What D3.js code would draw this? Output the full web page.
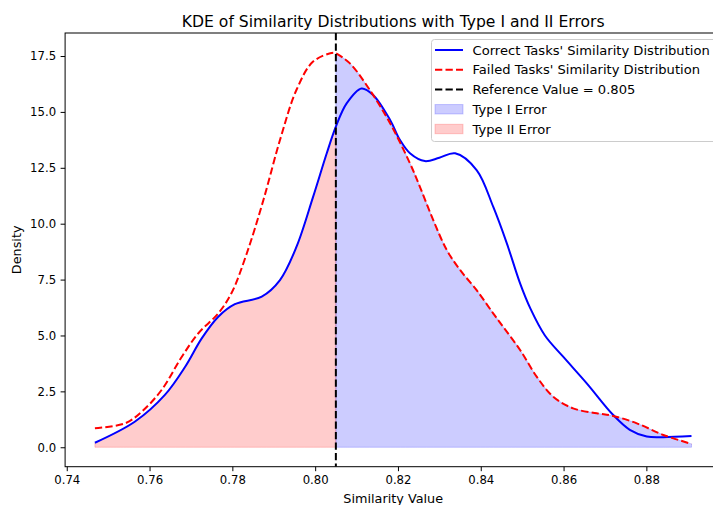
<!DOCTYPE html>
<html>
<head>
<meta charset="utf-8">
<script src="https://cdn.jsdelivr.net/npm/d3@7"></script>
<style>
  html, body { margin: 0; padding: 0; background: #fff; }
  svg { display: block; font-family: "DejaVu Sans", sans-serif; }
</style>
</head>
<body>
<svg id="chart" width="713" height="505"></svg>
<script>
// ---- data ----
const correctX = [0.7468, 0.7565, 0.7637, 0.7686, 0.7726, 0.7766, 0.7806, 0.7871, 0.7915, 0.7955, 0.7995, 0.8028, 0.8050, 0.8076, 0.8112, 0.8140, 0.8181, 0.8205, 0.8229, 0.8265, 0.8300, 0.8338, 0.8390, 0.8430, 0.8463, 0.8495, 0.8520, 0.8555, 0.8599, 0.8656, 0.8720, 0.8760, 0.8801, 0.8841, 0.8909];
const correctY = [0.20, 1.15, 2.34, 3.60, 4.87, 5.84, 6.40, 6.74, 7.48, 8.97, 11.2, 13.15, 14.34, 15.38, 16.05, 15.76, 14.64, 13.74, 13.15, 12.80, 12.95, 13.15, 12.40, 10.76, 9.12, 7.33, 6.20, 5.00, 4.05, 2.86, 1.44, 0.78, 0.48, 0.45, 0.50];
const failedX = [0.7468, 0.7541, 0.7581, 0.7629, 0.7678, 0.7718, 0.7766, 0.7798, 0.7835, 0.7875, 0.7915, 0.7955, 0.7995, 0.8044, 0.8050, 0.8084, 0.8132, 0.8181, 0.8229, 0.8253, 0.8285, 0.8318, 0.8350, 0.8390, 0.8430, 0.8454, 0.8495, 0.8535, 0.8575, 0.8623, 0.8680, 0.8720, 0.8777, 0.8841, 0.8909];
const failedY = [0.85, 1.07, 1.59, 2.56, 4.05, 5.10, 5.99, 6.90, 8.68, 11.06, 13.74, 15.99, 17.25, 17.65, 17.62, 17.17, 15.98, 14.49, 12.70, 11.65, 10.17, 8.82, 7.93, 7.03, 5.99, 5.39, 4.35, 3.16, 2.26, 1.74, 1.52, 1.40, 1.07, 0.55, 0.15];
const referenceValue = 0.805;
const xTicks = [0.74, 0.76, 0.78, 0.80, 0.82, 0.84, 0.86, 0.88];
const yTicks = [0.0, 2.5, 5.0, 7.5, 10.0, 12.5, 15.0, 17.5];
const legendLabels = ["Correct Tasks' Similarity Distribution", "Failed Tasks' Similarity Distribution", "Reference Value = 0.805", "Type I Error", "Type II Error"];

// ---- layout ----
const svg = d3.select("#chart");
const pLeft = 65.1, pRight = 721.3, pTop = 33, pBottom = 466.7;
const x = d3.scaleLinear().domain([0.7396, 0.8981]).range([pLeft, pRight]);
const y = d3.scaleLinear().domain([-0.87, 18.53]).range([pBottom, pTop]);

const correct = correctX.map((v, i) => [v, correctY[i]]);
const failed = failedX.map((v, i) => [v, failedY[i]]);

const curve = d3.curveCatmullRom.alpha(0.5);
const line = d3.line().x(d => x(d[0])).y(d => y(d[1])).curve(curve);
const area = d3.area().x(d => x(d[0])).y0(y(0)).y1(d => y(d[1])).curve(curve);

const defs = svg.append("defs");
defs.append("clipPath").attr("id", "plotclip").append("rect")
  .attr("x", pLeft).attr("y", pTop).attr("width", pRight - pLeft).attr("height", pBottom - pTop);

const g = svg.append("g").attr("clip-path", "url(#plotclip)");

// fills
g.append("path").datum(correct.filter(d => d[0] <= referenceValue + 1e-9))
  .attr("d", area).attr("fill", "rgba(255,0,0,0.2)").attr("stroke", "rgba(255,0,0,0.2)").attr("stroke-width", 1);
g.append("path").datum(failed.filter(d => d[0] >= referenceValue - 1e-9))
  .attr("d", area).attr("fill", "rgba(0,0,255,0.2)").attr("stroke", "rgba(0,0,255,0.2)").attr("stroke-width", 1);

// lines
const dash = "7.3,3.2";
g.append("path").datum(correct).attr("d", line)
  .attr("fill", "none").attr("stroke", "#0000ff").attr("stroke-width", 2);
g.append("path").datum(failed).attr("d", line)
  .attr("fill", "none").attr("stroke", "#ff0000").attr("stroke-width", 2)
  .attr("stroke-dasharray", dash);
g.append("line")
  .attr("x1", x(referenceValue)).attr("x2", x(referenceValue))
  .attr("y1", pTop).attr("y2", pBottom)
  .attr("stroke", "#000").attr("stroke-width", 2).attr("stroke-dasharray", dash);

// axes
const xAxis = d3.axisBottom(x).tickValues(xTicks).tickFormat(d3.format(".2f")).tickSize(4.5).tickPadding(4.5);
const yAxis = d3.axisLeft(y).tickValues(yTicks).tickFormat(d3.format(".1f")).tickSize(4.5).tickPadding(4.5);
const gx = svg.append("g").attr("transform", `translate(0,${pBottom})`).call(xAxis);
const gy = svg.append("g").attr("transform", `translate(${pLeft},0)`).call(yAxis);
[gx, gy].forEach(a => {
  a.select(".domain").remove();
  a.selectAll(".tick line").attr("stroke", "#000").attr("stroke-width", 1);
  a.selectAll(".tick text").attr("fill", "#000").style("font-size", "11.7px").style("font-family", "DejaVu Sans");
});

// spines
svg.append("rect").attr("x", pLeft).attr("y", pTop).attr("width", pRight - pLeft).attr("height", pBottom - pTop)
  .attr("fill", "none").attr("stroke", "#000").attr("stroke-width", 1);

// titles
svg.append("text").attr("x", (pLeft + pRight) / 2).attr("y", 26.5).attr("text-anchor", "middle")
  .style("font-size", "15.6px").text("KDE of Similarity Distributions with Type I and II Errors");
svg.append("text").attr("x", (pLeft + pRight) / 2).attr("y", 503).attr("text-anchor", "middle")
  .style("font-size", "12.8px").text("Similarity Value");
svg.append("text").attr("transform", `translate(20.5,${(pTop + pBottom) / 2}) rotate(-90)`).attr("text-anchor", "middle")
  .style("font-size", "12.8px").text("Density");

// legend
const lg = svg.append("g");
lg.append("rect").attr("x", 431.5).attr("y", 39.5).attr("width", 290).attr("height", 102).attr("rx", 3)
  .attr("fill", "rgba(255,255,255,0.8)").attr("stroke", "#cccccc").attr("stroke-width", 1);
const rowY = i => 50 + i * 19.75;
const sx0 = 435, sx1 = 463;
lg.append("line").attr("x1", sx0).attr("x2", sx1).attr("y1", rowY(0)).attr("y2", rowY(0))
  .attr("stroke", "#0000ff").attr("stroke-width", 2);
lg.append("line").attr("x1", sx0).attr("x2", sx1).attr("y1", rowY(1)).attr("y2", rowY(1))
  .attr("stroke", "#ff0000").attr("stroke-width", 2).attr("stroke-dasharray", dash);
lg.append("line").attr("x1", sx0).attr("x2", sx1).attr("y1", rowY(2)).attr("y2", rowY(2))
  .attr("stroke", "#000").attr("stroke-width", 2).attr("stroke-dasharray", dash);
lg.append("rect").attr("x", sx0).attr("y", rowY(3) - 4.7).attr("width", sx1 - sx0).attr("height", 9.4)
  .attr("fill", "rgba(0,0,255,0.2)").attr("stroke", "rgba(0,0,255,0.2)");
lg.append("rect").attr("x", sx0).attr("y", rowY(4) - 4.7).attr("width", sx1 - sx0).attr("height", 9.4)
  .attr("fill", "rgba(255,0,0,0.2)").attr("stroke", "rgba(255,0,0,0.2)");
legendLabels.forEach((t, i) => {
  lg.append("text").attr("x", 472.5).attr("y", rowY(i)).attr("dy", "0.36em")
    .style("font-size", "13.1px").attr("fill", "#000").text(t);
});
</script>
</body>
</html>
